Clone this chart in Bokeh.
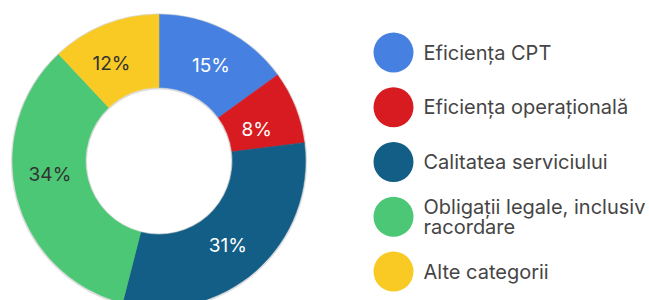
import math
from bokeh.plotting import figure
from bokeh.models import Range1d, ColumnDataSource
from bokeh.core.properties import value
from bokeh.embed import file_html
from bokeh.resources import INLINE

categories = ["Eficiența CPT", "Eficiența operațională", "Calitatea serviciului",
              "Obligații legale, inclusiv\nracordare", "Alte categorii"]
values = [15, 8, 31, 34, 12]
colors = ["#4680E0", "#D81B20", "#125E86", "#4CC775", "#F9CA24"]
label_colors = ["#FFFFFF", "#FFFFFF", "#FFFFFF", "#333333", "#333333"]
# small layout nudges of the slice labels (screen px, x right / y up)
label_dx = [2, -4.5, -4, -2.5, -7]
label_dy = [-3, -9, -2, 14, -4.5]

W, H = 649, 300
# data coordinates = screen pixels (y measured upward from the bottom edge)
p = figure(width=W, height=H, output_backend="svg", toolbar_location=None,
           x_range=Range1d(0, W), y_range=Range1d(0, H), min_border=0)
p.axis.visible = False
p.grid.visible = False
p.outline_line_color = None
p.background_fill_color = "white"

cx, cy = 158.5, H - 160.5
r_out, r_in = 146.5, 73.5

total = sum(values)
starts, ends, lx, ly, labels = [], [], [], [], []
cum = 0
for i, v in enumerate(values):
    a0 = math.pi / 2 - 2 * math.pi * cum / total
    cum += v
    a1 = math.pi / 2 - 2 * math.pi * cum / total
    starts.append(a0)
    ends.append(a1)
    mid = (a0 + a1) / 2
    rm = (r_out + r_in) / 2
    lx.append(cx + rm * math.cos(mid) + label_dx[i])
    ly.append(cy + rm * math.sin(mid) + label_dy[i])
    labels.append(f"{round(100 * v / total)}%")

# subtle shadow
p.annular_wedge(x=cx, y=cy - 0.5, inner_radius=r_in - 1, outer_radius=r_out + 1.2,
                start_angle=0, end_angle=2 * math.pi, color="#D8D8D8", alpha=0.8)

src = ColumnDataSource(dict(start=starts, end=ends, color=colors,
                            lx=lx, ly=ly, label=labels, lc=label_colors))
p.annular_wedge(x=cx, y=cy, inner_radius=r_in, outer_radius=r_out,
                start_angle="start", end_angle="end", direction="clock",
                fill_color="color", line_color="color", line_width=0.5, source=src)
p.text(x="lx", y="ly", text="label", text_color="lc", source=src,
       text_font=value("Inter"), text_font_size="19px",
       text_align="center", text_baseline="middle")

# legend
leg_x, leg_y0, leg_step = 393, H - 52, 54.75
ys = [leg_y0 - i * leg_step for i in range(len(categories))]
lsrc = ColumnDataSource(dict(x=[leg_x] * len(categories), y=ys, color=colors,
                             tx=[leg_x + 30] * len(categories), text=categories))
p.circle(x="x", y="y", radius=20, fill_color="color", line_color=None, source=lsrc)
p.text(x="tx", y="y", text="text", source=lsrc, text_color="#454545",
       text_font=value("Inter"), text_font_size="20px",
       text_align="left", text_baseline="middle", text_line_height=0.85)

open("out.html", "w").write(file_html(p, INLINE))
